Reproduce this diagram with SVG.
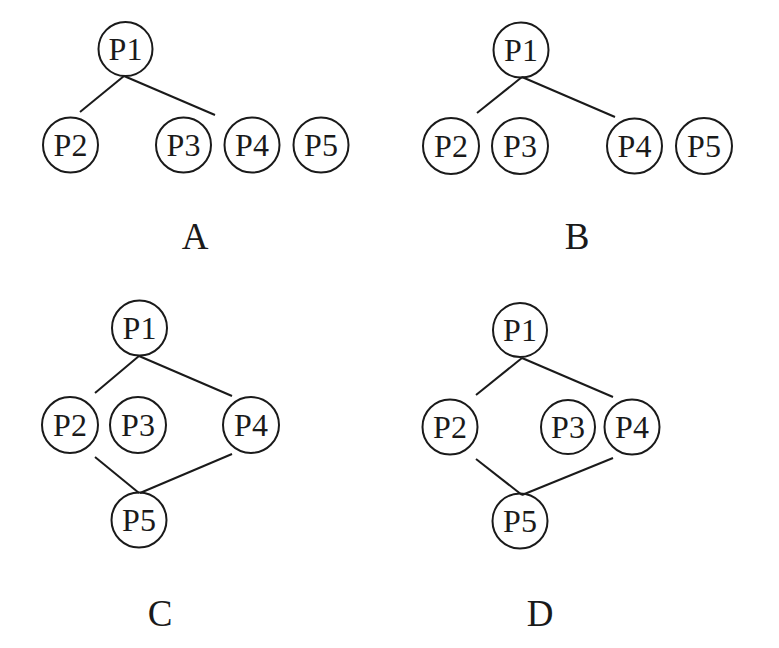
<svg xmlns="http://www.w3.org/2000/svg" width="779" height="648" viewBox="0 0 779 648">
<style>
.n circle{fill:none;stroke:#1a1a1a;stroke-width:2}
.n text{font-family:"Liberation Serif",serif;font-size:32px;fill:#1a1a1a;text-anchor:middle}
.e line{stroke:#1a1a1a;stroke-width:2}
.lbl{font-family:"Liberation Serif",serif;font-size:37px;fill:#1a1a1a;text-anchor:middle}
</style>
<rect width="779" height="648" fill="#fff"/>
<g class="e" id="connectors">
<line x1="124" y1="76" x2="80" y2="112"/>
<line x1="124" y1="76" x2="215" y2="115"/>
<line x1="522" y1="77" x2="477" y2="113"/>
<line x1="522" y1="77" x2="615" y2="117"/>
<line x1="139" y1="356" x2="95" y2="393"/>
<line x1="139" y1="356" x2="232" y2="396"/>
<line x1="95" y1="457" x2="139" y2="493"/>
<line x1="232" y1="454" x2="140" y2="493"/>
<line x1="522" y1="358" x2="476" y2="395"/>
<line x1="522" y1="358" x2="613" y2="397"/>
<line x1="476" y1="459" x2="522" y2="495"/>
<line x1="613" y1="458" x2="522" y2="495"/>
</g>
<g class="n" id="A-P1"><circle cx="125.5" cy="49" r="27"/><text x="125.5" y="60">P1</text></g>
<g class="n" id="A-P2"><circle cx="70.5" cy="145" r="27.5"/><text x="70.5" y="156">P2</text></g>
<g class="n" id="A-P3"><circle cx="183.5" cy="145" r="27.5"/><text x="183.5" y="156">P3</text></g>
<g class="n" id="A-P4"><circle cx="252" cy="145" r="27.5"/><text x="252" y="156">P4</text></g>
<g class="n" id="A-P5"><circle cx="321" cy="145" r="27.5"/><text x="321" y="156">P5</text></g>
<g class="n" id="B-P1"><circle cx="521" cy="50" r="27.5"/><text x="521" y="61">P1</text></g>
<g class="n" id="B-P2"><circle cx="451" cy="146" r="28"/><text x="451" y="157">P2</text></g>
<g class="n" id="B-P3"><circle cx="520" cy="146" r="28"/><text x="520" y="157">P3</text></g>
<g class="n" id="B-P4"><circle cx="634.5" cy="146" r="27.5"/><text x="634.5" y="157">P4</text></g>
<g class="n" id="B-P5"><circle cx="704" cy="146" r="28"/><text x="704" y="157">P5</text></g>
<g class="n" id="C-P1"><circle cx="139.5" cy="328" r="27.5"/><text x="139.5" y="339">P1</text></g>
<g class="n" id="C-P2"><circle cx="70" cy="425" r="28"/><text x="70" y="436">P2</text></g>
<g class="n" id="C-P3"><circle cx="138" cy="425" r="28"/><text x="138" y="436">P3</text></g>
<g class="n" id="C-P4"><circle cx="251" cy="425" r="28"/><text x="251" y="436">P4</text></g>
<g class="n" id="C-P5"><circle cx="139" cy="520" r="27.5"/><text x="139" y="531">P5</text></g>
<g class="n" id="D-P1"><circle cx="520" cy="330" r="27"/><text x="520" y="341">P1</text></g>
<g class="n" id="D-P2"><circle cx="450" cy="427" r="27.5"/><text x="450" y="438">P2</text></g>
<g class="n" id="D-P3"><circle cx="568" cy="427" r="27"/><text x="568" y="438">P3</text></g>
<g class="n" id="D-P4"><circle cx="632" cy="427" r="27.5"/><text x="632" y="438">P4</text></g>
<g class="n" id="D-P5"><circle cx="520" cy="521" r="27.5"/><text x="520" y="532">P5</text></g>
<text class="lbl" x="195" y="249">A</text>
<text class="lbl" x="577" y="249">B</text>
<text class="lbl" x="160" y="626">C</text>
<text class="lbl" x="540" y="626">D</text>
</svg>
